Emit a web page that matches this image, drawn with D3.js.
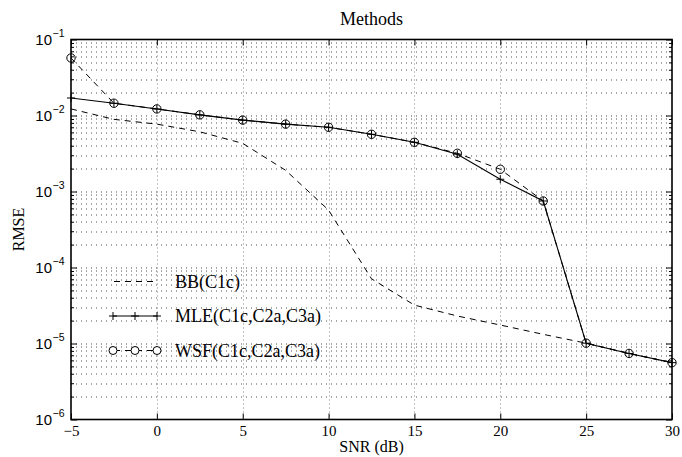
<!DOCTYPE html>
<html>
<head>
<meta charset="utf-8">
<script src="https://cdn.jsdelivr.net/npm/d3@7"></script>
<style>
  body { margin: 0; background: #fff; }
  svg { display: block; font-family: "Liberation Serif", "DejaVu Serif", serif; }
</style>
</head>
<body>
<div id="chart"></div>
<script>
// data
const snr = [-5, -2.5, 0, 2.5, 5, 7.5, 10, 12.5, 15, 17.5, 20, 22.5, 25, 27.5, 30];
const bbValues  = [0.0122, 0.0089, 0.0077, 0.0061, 0.0043, 0.0019, 0.00057, 0.000071, 0.000032, 0.000023, 0.0000175, 0.0000132, 0.0000101, 0.0000074, 0.0000056];
const mleValues = [0.0170, 0.0145, 0.0122, 0.0102, 0.0087, 0.0077, 0.0070, 0.00566, 0.00444, 0.0031, 0.00145, 0.00075, 0.0000101, 0.0000074, 0.0000056];
const wsfValues = [0.0571, 0.0145, 0.0122, 0.0102, 0.0087, 0.0077, 0.0070, 0.00566, 0.00444, 0.00318, 0.00196, 0.00075, 0.0000101, 0.0000074, 0.0000056];
const xTicks = [-5, 0, 5, 10, 15, 20, 25, 30];
const yExponents = [-6, -5, -4, -3, -2, -1];
const legendLabels = ["BB(C1c)", "MLE(C1c,C2a,C3a)", "WSF(C1c,C2a,C3a)"];

const outerWidth = 682, outerHeight = 457;
const margin = { top: 39.5, right: 10, bottom: 37.5, left: 71 };
const width = outerWidth - margin.left - margin.right;
const height = outerHeight - margin.top - margin.bottom;

const svg = d3.select("#chart").append("svg")
  .attr("width", outerWidth)
  .attr("height", outerHeight);

const g = svg.append("g")
  .attr("transform", `translate(${margin.left},${margin.top})`);

const x = d3.scaleLinear().domain([-5, 30]).range([0, width]);
const y = d3.scaleLog().domain([1e-6, 1e-1]).range([height, 0]);

const majorY = yExponents.map(e => Math.pow(10, e));
const minorY = [];
yExponents.slice(0, -1).forEach(e => {
  for (let k = 2; k <= 9; k++) minorY.push(k * Math.pow(10, e));
});

// grid (dotted)
const grid = g.append("g").attr("stroke", "#3a3a3a").attr("stroke-width", 0.9)
  .attr("stroke-dasharray", "1,4");
grid.selectAll(".hgrid")
  .data(majorY.concat(minorY).filter(v => v > 1e-6 && v < 1e-1))
  .enter().append("line")
    .attr("x1", 0).attr("x2", width)
    .attr("y1", d => Math.round(y(d)) + 0.5)
    .attr("y2", d => Math.round(y(d)) + 0.5);
grid.selectAll(".vgrid")
  .data(xTicks.filter(v => v > -5 && v < 30))
  .enter().append("line")
    .attr("stroke-dasharray", "1,3")
    .attr("stroke", "#777")
    .attr("y1", 0).attr("y2", height)
    .attr("x1", d => Math.round(x(d)) + 0.5)
    .attr("x2", d => Math.round(x(d)) + 0.5);

// axes: ticks inward on all four sides
function styleAxis(sel) {
  sel.select(".domain").remove();
  sel.selectAll("line").attr("stroke", "#000");
}

const xAxis = d3.axisBottom(x).tickValues(xTicks).tickSizeInner(-6).tickSizeOuter(0)
  .tickPadding(6).tickFormat(d => d < 0 ? "\u2212" + Math.abs(d) : d);
const gx = g.append("g").attr("transform", `translate(0,${height})`).call(xAxis);
styleAxis(gx);
gx.selectAll("text").attr("fill", "#000").style("font-size", "15px")
  .style("font-family", "Liberation Serif, serif");

g.append("g").call(d3.axisTop(x).tickValues(xTicks).tickSizeInner(-6).tickSizeOuter(0).tickFormat(""))
  .call(styleAxis);

const yAxis = d3.axisLeft(y).tickValues(majorY).tickSizeInner(-6).tickSizeOuter(0).tickFormat("");
const gy = g.append("g").call(yAxis);
styleAxis(gy);
gy.selectAll(".tick").append("text")
  .attr("x", -19).attr("y", 5)
  .attr("text-anchor", "end")
  .attr("fill", "#000")
  .style("font-size", "15px")
  .text("10");
gy.selectAll(".tick").append("text")
  .attr("x", -18.5).attr("y", -3)
  .attr("text-anchor", "start")
  .attr("fill", "#000")
  .style("font-size", "10.5px")
  .text((d, i) => "\u2212" + Math.abs(yExponents[i]));

g.append("g").call(d3.axisLeft(y).tickValues(minorY).tickSizeInner(-3).tickSizeOuter(0).tickFormat(""))
  .call(styleAxis);
g.append("g").attr("transform", `translate(${width},0)`)
  .call(d3.axisRight(y).tickValues(majorY).tickSizeInner(-6).tickSizeOuter(0).tickFormat(""))
  .call(styleAxis);
g.append("g").attr("transform", `translate(${width},0)`)
  .call(d3.axisRight(y).tickValues(minorY).tickSizeInner(-3).tickSizeOuter(0).tickFormat(""))
  .call(styleAxis);

// frame
g.append("rect")
  .attr("width", width).attr("height", height)
  .attr("fill", "none").attr("stroke", "#000").attr("stroke-width", 1.6);

// curves
const line = d3.line()
  .x(d => x(d[0]))
  .y(d => y(d[1]));

const bbData  = snr.map((s, i) => [s, bbValues[i]]);
const mleData = snr.map((s, i) => [s, mleValues[i]]);
const wsfData = snr.map((s, i) => [s, wsfValues[i]]);

g.append("path").datum(bbData)
  .attr("d", line).attr("fill", "none").attr("stroke", "#000")
  .attr("stroke-width", 1).attr("stroke-dasharray", "6,5");

g.append("path").datum(wsfData)
  .attr("d", line).attr("fill", "none").attr("stroke", "#000")
  .attr("stroke-width", 1).attr("stroke-dasharray", "6,5");

g.append("path").datum(mleData)
  .attr("d", line).attr("fill", "none").attr("stroke", "#000")
  .attr("stroke-width", 1.1);

function plusMarker(sel, size) {
  sel.append("line").attr("x1", -size).attr("x2", size).attr("y1", 0).attr("y2", 0);
  sel.append("line").attr("y1", -size).attr("y2", size).attr("x1", 0).attr("x2", 0);
}

g.selectAll(".mle-mark").data(mleData).enter().append("g")
  .attr("class", "mle-mark")
  .attr("transform", d => `translate(${x(d[0])},${y(d[1])})`)
  .attr("stroke", "#000").attr("stroke-width", 1)
  .call(plusMarker, 4);

g.selectAll(".wsf-mark").data(wsfData).enter().append("circle")
  .attr("class", "wsf-mark")
  .attr("cx", d => x(d[0])).attr("cy", d => y(d[1]))
  .attr("r", 4.2)
  .attr("fill", "none").attr("stroke", "#000").attr("stroke-width", 1);

// legend
const legendY = [281.5, 316, 350.5];
const lx0 = 113 - margin.left, lx1 = 157 - margin.left;
const legend = g.append("g");
legendLabels.forEach((label, i) => {
  const ly = legendY[i] - margin.top;
  const row = legend.append("g");
  const ln = row.append("line")
    .attr("x1", lx0).attr("x2", lx1).attr("y1", ly).attr("y2", ly)
    .attr("stroke", "#000").attr("stroke-width", 1);
  if (i !== 1) ln.attr("stroke-dasharray", "6,5").attr("stroke-dashoffset", -1);
  const mid = [lx0, (lx0 + lx1) / 2, lx1];
  if (i === 1) {
    mid.forEach(mx => row.append("g")
      .attr("transform", `translate(${mx},${ly})`)
      .attr("stroke", "#000").attr("stroke-width", 1)
      .call(plusMarker, 4));
  }
  if (i === 2) {
    mid.forEach(mx => row.append("circle")
      .attr("cx", mx).attr("cy", ly).attr("r", 4)
      .attr("fill", "#fff").attr("stroke", "#000"));
  }
  row.append("text")
    .attr("x", 175 - margin.left).attr("y", ly + 6)
    .attr("fill", "#000")
    .style("font-size", "18px")
    .text(label);
});

// titles
svg.append("text")
  .attr("x", margin.left + width / 2).attr("y", 25)
  .attr("text-anchor", "middle")
  .style("font-size", "18px")
  .text("Methods");

svg.append("text")
  .attr("x", margin.left + width / 2).attr("y", 452)
  .attr("text-anchor", "middle")
  .style("font-size", "16px")
  .text("SNR (dB)");

svg.append("text")
  .attr("transform", "rotate(-90)")
  .attr("x", -(margin.top + height / 2)).attr("y", 24)
  .attr("text-anchor", "middle")
  .style("font-size", "16px")
  .text("RMSE");
</script>
</body>
</html>
